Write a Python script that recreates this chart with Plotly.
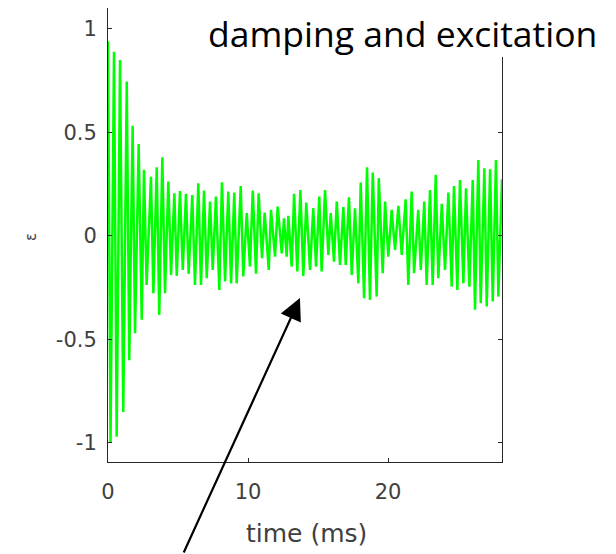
import plotly.graph_objects as go

# ---- data (extrema of the oscillation) ----
peak_t = [0.00, 0.43, 0.86, 1.34, 1.76, 2.19, 2.57, 3.07, 3.48, 3.88, 4.31, 4.74, 5.14, 5.57,
          6.02, 6.45, 6.86, 7.29, 7.71, 8.14, 8.59, 9.02, 9.48, 9.91, 10.34, 10.76, 11.19,
          11.64, 12.12, 12.57, 12.88, 13.29, 13.74, 14.16, 14.66, 15.09, 15.50, 15.91, 16.34,
          16.81, 17.21, 17.64, 18.05, 18.50, 18.91, 19.34, 19.79, 20.26, 20.74, 21.26, 21.69,
          22.16, 22.59, 23.00, 23.41, 23.84, 24.31, 24.71, 25.14, 25.57, 26.05, 26.45, 26.88,
          27.29, 27.71, 28.14]
peak_v = [0.94, 0.89, 0.85, 0.746, 0.532, 0.444, 0.319, 0.286, 0.332, 0.380, 0.263, 0.206,
          0.217, 0.203, 0.198, 0.254, 0.219, 0.166, 0.190, 0.259, 0.214, 0.209, 0.241, 0.110,
          0.219, 0.206, 0.113, 0.126, 0.142, 0.085, 0.097, 0.203, 0.222, 0.161, 0.134, 0.190,
          0.222, 0.110, 0.166, 0.139, 0.187, 0.134, 0.258, 0.332, 0.306, 0.279, 0.166, 0.126,
          0.145, 0.177, 0.214, 0.126, 0.166, 0.222, 0.295, 0.155, 0.209, 0.241, 0.270, 0.230,
          0.270, 0.367, 0.327, 0.322, 0.367, 0.274]
trough_t = [0.18, 0.62, 1.09, 1.52, 1.93, 2.41, 2.76, 3.24, 3.66, 4.07, 4.50, 4.91, 5.34,
            5.76, 6.21, 6.64, 7.05, 7.48, 7.95, 8.36, 8.79, 9.19, 9.66, 10.14, 10.57, 11.00,
            11.48, 11.93, 12.41, 12.76, 13.12, 13.52, 13.95, 14.43, 14.86, 15.26, 15.74, 16.14,
            16.57, 16.98, 17.41, 17.88, 18.29, 18.71, 19.19, 19.62, 20.02, 20.50, 20.98, 21.45,
            21.86, 22.34, 22.76, 23.19, 23.59, 24.07, 24.55, 24.95, 25.38, 25.81, 26.21, 26.62,
            27.05, 27.48, 27.88]
trough_v = [-1.00, -0.97, -0.85, -0.60, -0.47, -0.405, -0.237, -0.277, -0.382, -0.277, -0.188,
            -0.193, -0.164, -0.183, -0.237, -0.237, -0.204, -0.164, -0.261, -0.220, -0.229,
            -0.229, -0.196, -0.148, -0.183, -0.108, -0.164, -0.100, -0.084, -0.100, -0.148,
            -0.172, -0.193, -0.164, -0.148, -0.172, -0.092, -0.124, -0.140, -0.140, -0.188,
            -0.229, -0.301, -0.309, -0.293, -0.180, -0.100, -0.068, -0.092, -0.237, -0.180,
            -0.164, -0.237, -0.237, -0.204, -0.164, -0.245, -0.261, -0.229, -0.245, -0.357,
            -0.325, -0.341, -0.317, -0.293]

x_tickvals = [0, 10, 20]
x_ticktext = ["0", "10", "20"]
y_tickvals = [-1, -0.5, 0, 0.5, 1]
y_ticktext = ["-1", "-0.5", "0", "0.5", "1"]

title_text = "damping and excitation"
x_title = "time (ms)"
y_title = "ε"

# merge extrema in time order
pts = sorted(list(zip(peak_t, peak_v)) + list(zip(trough_t, trough_v)))
t_all = [p[0] for p in pts]
v_all = [p[1] for p in pts]

# ---- geometry (page pixels; the page body adds an 8px offset) ----
OFF = 8
W, H = 616 - OFF, 554 - OFF
PL, PR, PT, PB = 108, 502, 8, 462          # plot box in page pixels
L, R, T, B = PL - OFF, (616 - PR), PT - OFF, (554 - PB)
pw, ph = PR - PL, PB - PT


def paper(x, y):
    return (x - PL) / pw, (PB - y) / ph


fig = go.Figure()
fig.add_trace(go.Scatter(x=t_all, y=v_all, mode="lines",
                         line=dict(color="#00ff00", width=2.5), showlegend=False))

tick_font = dict(family="DejaVu Sans", size=21, color="#404040")
axis_common = dict(showline=True, linecolor="#262626", linewidth=1, mirror="ticks",
                   ticks="inside", ticklen=4, tickcolor="#262626", showgrid=False,
                   zeroline=False, tickfont=tick_font)

fig.update_xaxes(range=[0, 28.14], tickvals=x_tickvals, ticktext=x_ticktext,
                 ticklabelstandoff=11, **axis_common)
fig.update_yaxes(range=[-1.092, 1.101], tickvals=y_tickvals, ticktext=y_ticktext,
                 ticklabelstandoff=6, **axis_common)

# axis titles
ax_x, ax_y = paper(306, 533)
fig.add_annotation(text=x_title, xref="paper", yref="paper", x=ax_x, y=ax_y,
                   xanchor="center", yanchor="middle", showarrow=False,
                   font=dict(family="DejaVu Sans", size=25, color="#404040"))
ey_x, ey_y = paper(31, 237)
fig.add_annotation(text=y_title, xref="paper", yref="paper", x=ey_x, y=ey_y,
                   xanchor="center", yanchor="middle", showarrow=False, textangle=-90,
                   font=dict(family="DejaVu Sans", size=15, color="#404040"))

# white box behind the overlaid caption
bx0, by0 = paper(180, 57)
bx1, by1 = paper(640, -20)
fig.add_shape(type="rect", xref="paper", yref="paper", x0=bx0, x1=bx1, y0=by0, y1=by1,
              fillcolor="white", line=dict(width=0), layer="above")

tx, ty = paper(402, 8)
fig.add_annotation(text=title_text, xref="paper", yref="paper", x=tx, y=ty,
                   xanchor="center", yanchor="top", showarrow=False, borderpad=0,
                   font=dict(family="Open Sans", size=35.5, color="black"))

# arrow pointing to the oscillation
arrow_tip = (13.71, -0.30)
arrow_tail = (5.36, -1.536)
fig.add_annotation(x=arrow_tip[0], y=arrow_tip[1], ax=arrow_tail[0], ay=arrow_tail[1],
                   xref="x", yref="y", axref="x", ayref="y", text="", showarrow=True,
                   arrowhead=2, arrowsize=2.0, arrowwidth=2.2, arrowcolor="black")

fig.update_layout(width=W, height=H, margin=dict(l=L, r=R, t=T, b=B, autoexpand=False),
                  paper_bgcolor="white", plot_bgcolor="white")

fig.write_html("out.html")
